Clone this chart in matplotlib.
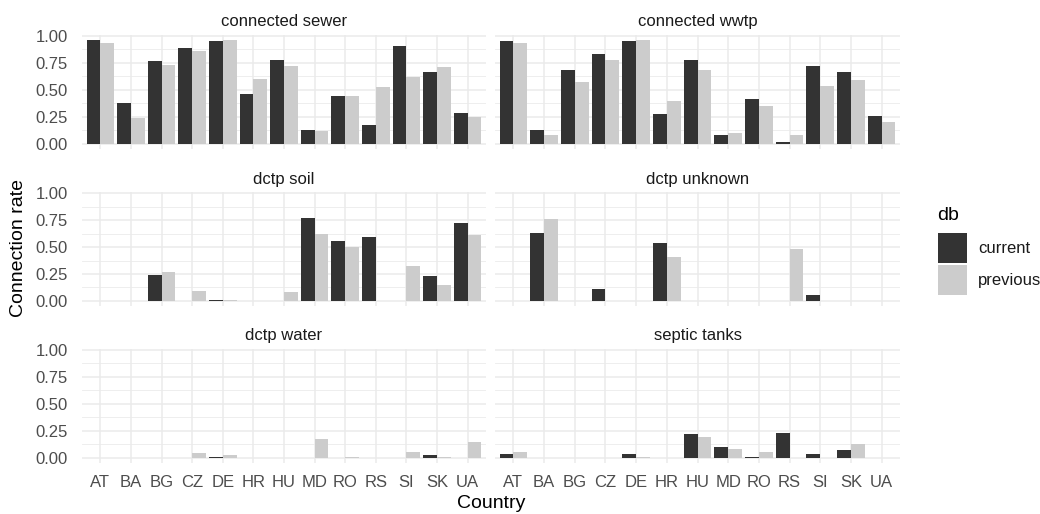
import numpy as np
import matplotlib.pyplot as plt
from matplotlib.patches import Rectangle

plt.rcParams['font.family'] = ['Liberation Sans', 'DejaVu Sans']

countries = ['AT', 'BA', 'BG', 'CZ', 'DE', 'HR', 'HU', 'MD', 'RO', 'RS', 'SI', 'SK', 'UA']
nan = np.nan

# connection rates per category, current and previous database
sewer_current = [0.960, 0.373, 0.765, 0.889, 0.954, 0.463, 0.778, 0.127, 0.438, 0.173, 0.904, 0.670, 0.284]
sewer_previous = [0.938, 0.235, 0.735, 0.858, 0.963, 0.599, 0.719, 0.117, 0.438, 0.525, 0.620, 0.710, 0.247]

wwtp_current = [0.951, 0.123, 0.682, 0.836, 0.957, 0.278, 0.778, 0.083, 0.417, 0.012, 0.722, 0.667, 0.259]
wwtp_previous = [0.938, 0.083, 0.571, 0.778, 0.960, 0.395, 0.685, 0.099, 0.349, 0.080, 0.540, 0.593, 0.204]

soil_current = [nan, nan, 0.238, nan, 0.006, nan, nan, 0.775, 0.556, 0.596, nan, 0.235, 0.722]
soil_previous = [nan, nan, 0.265, 0.093, 0.009, nan, 0.086, 0.623, 0.503, nan, 0.327, 0.148, 0.608]

unknown_current = [nan, 0.630, nan, 0.114, nan, 0.537, nan, nan, nan, nan, 0.056, nan, nan]
unknown_previous = [nan, 0.765, nan, nan, nan, 0.407, nan, nan, nan, 0.478, nan, nan, nan]

water_current = [nan, nan, nan, nan, 0.006, nan, nan, nan, nan, nan, nan, 0.025, nan]
water_previous = [nan, nan, nan, 0.047, 0.022, nan, nan, 0.174, 0.003, nan, 0.053, 0.009, 0.146]

septic_current = [0.034, nan, nan, nan, 0.034, nan, 0.224, 0.099, 0.009, 0.233, 0.037, 0.068, nan]
septic_previous = [0.053, nan, nan, nan, 0.003, nan, 0.196, 0.084, 0.050, nan, nan, 0.130, nan]

panels = [
    ('connected sewer', sewer_current, sewer_previous),
    ('connected wwtp', wwtp_current, wwtp_previous),
    ('dctp soil', soil_current, soil_previous),
    ('dctp unknown', unknown_current, unknown_previous),
    ('dctp water', water_current, water_previous),
    ('septic tanks', septic_current, septic_previous),
]

db_labels = ['current', 'previous']
col_current = '#333333'
col_previous = '#CCCCCC'
grid_col = '#EBEBEB'
text_col = '#4D4D4D'

W, H = 1040, 514
fig = plt.figure(figsize=(W / 100, H / 100), dpi=100)

lefts = [82, 495]
widths = [404, 405]
tops = [34.8, 192.1, 348.8]
height = 114.0

x = np.arange(len(countries))
bw = 0.45

for i, (title, cur, prev) in enumerate(panels):
    r, c = divmod(i, 2)
    ax = fig.add_axes([lefts[c] / W, 1 - (tops[r] + height) / H, widths[c] / W, height / H])
    ax.bar(x - bw / 2, cur, width=bw, color=col_current, linewidth=0, zorder=3)
    ax.bar(x + bw / 2, prev, width=bw, color=col_previous, linewidth=0, zorder=3)

    ax.set_xlim(-0.6, len(countries) - 0.4)
    ax.set_ylim(-0.048, 1.011)
    ax.set_xticks(x)
    ax.set_yticks([0, 0.25, 0.5, 0.75, 1.0])
    ax.set_yticks([0.125, 0.375, 0.625, 0.875], minor=True)
    ax.grid(True, which='major', color=grid_col, linewidth=1.1, zorder=0)
    ax.grid(True, which='minor', axis='y', color=grid_col, linewidth=0.6, zorder=0)
    for s in ax.spines.values():
        s.set_visible(False)
    ax.tick_params(which='both', length=0, labelsize=12, labelcolor=text_col)
    ax.tick_params(axis='x', pad=8.5)
    ax.tick_params(axis='y', pad=10)

    if r == 2:
        ax.set_xticklabels(countries)
    else:
        ax.set_xticklabels([])
    if c == 0:
        ax.set_yticklabels(['0.00', '0.25', '0.50', '0.75', '1.00'])
    else:
        ax.set_yticklabels([])

    ax.set_title(title, fontsize=12, color='#1A1A1A', pad=6)

fig.text(491 / W, 1 - 504 / H, 'Country', ha='center', va='center', fontsize=14, color='black')
fig.text(19 / W, 1 - 248 / H, 'Connection rate', ha='center', va='center', rotation=90,
         fontsize=14, color='black')

# legend, laid out by hand in pixel units
fig.text(937 / W, 1 - 220 / H, 'db', ha='left', va='baseline', fontsize=14, color='black')
for k, (lab, col) in enumerate(zip(db_labels, [col_current, col_previous])):
    y0 = 233 + k * 32
    fig.patches.append(Rectangle((938 / W, 1 - (y0 + 30) / H), 29 / W, 30 / H,
                                 transform=fig.transFigure, facecolor=col, edgecolor='none'))
    fig.text(978 / W, 1 - (y0 + 15) / H, lab, ha='left', va='center', fontsize=12, color='#1A1A1A')

fig.savefig('out.png', dpi=100)
